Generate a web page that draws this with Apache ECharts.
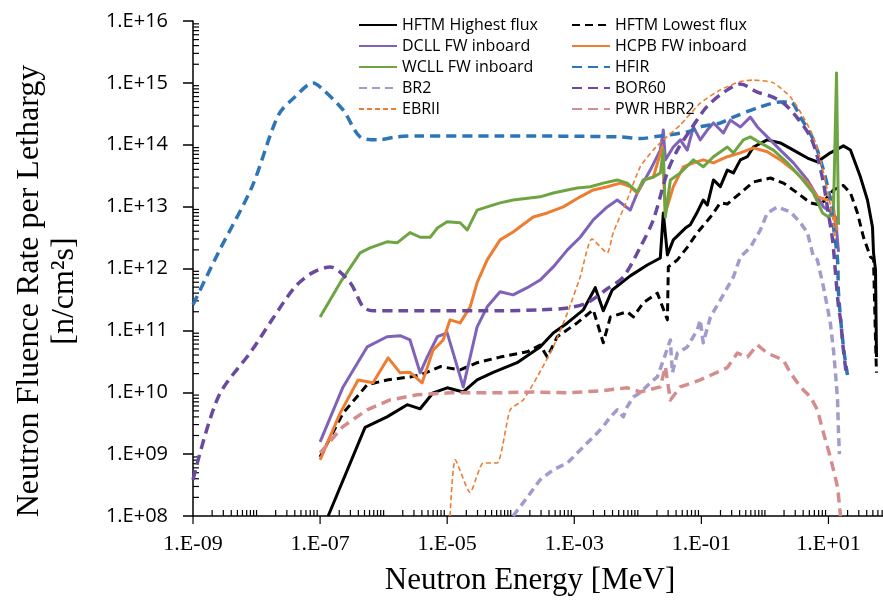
<!DOCTYPE html>
<html>
<head>
<meta charset="utf-8">
<script src="https://cdn.jsdelivr.net/npm/echarts@6/dist/echarts.min.js"></script>
<style>html,body{margin:0;padding:0;background:#fff}#c{width:883px;height:608px}</style>
</head>
<body>
<div id="c"></div>
<script>
// Axis decades (tick values)
const xDecades = [1e-9,1e-8,1e-7,1e-6,1e-5,1e-4,1e-3,1e-2,1e-1,1e0,1e1,1e2];
const yDecades = [1e8,1e9,1e10,1e11,1e12,1e13,1e14,1e15,1e16];
const minorSteps = [2,3,4,5,6,7,8,9];

// Series values: [energy MeV, fluence rate per lethargy]
const hftmHighest = [[1.34e-7,1.0e8],[5.1e-7,2.7e9],[1.13e-6,4.0e9],[2.35e-6,6.3e9],[3.76e-6,5.4e9],[6.0e-6,9.8e9],[1.0e-5,1.18e10],[1.79e-5,1.01e10],[2.96e-5,1.58e10],[5.3e-5,2.1e10],[1.26e-4,3.0e10],[2.9e-4,5.4e10],[4.67e-4,9.1e10],[7.8e-4,1.32e11],[1.39e-3,2.15e11],[2.14e-3,4.9e11],[2.86e-3,2.07e11],[3.96e-3,4.5e11],[7.6e-3,7.6e11],[1.41e-2,1.14e12],[2.26e-2,1.48e12],[2.52e-2,7.9e12],[2.92e-2,1.66e12],[3.62e-2,2.9e12],[5.6e-2,4.5e12],[6.7e-2,5.1e12],[8.65e-2,8.2e12],[0.107,1.28e13],[0.124,1.06e13],[0.155,2.7e13],[0.199,2.1e13],[0.256,3.9e13],[0.319,3.5e13],[0.411,5.7e13],[0.53,6.4e13],[0.659,9.2e13],[1.09,1.2e14],[1.75,1.07e14],[2.81,8.2e13],[4.67,6.1e13],[6.7,5.3e13],[10.7,7.4e13],[17.2,9.6e13],[22.2,8.2e13],[31.9,3.0e13],[41.1,1.28e13],[49.3,4.7e12],[51.2,1.79e12],[55.0,9.5e11],[57.0,3.7e10]];
const hftmLowest = [[1e-7,9.0e8],[2.3e-7,4.6e9],[5.5e-7,1.32e10],[1.13e-6,1.58e10],[2.6e-6,1.77e10],[3.76e-6,1.9e10],[7.8e-6,2.6e10],[1.6e-5,2.3e10],[2.96e-5,3.0e10],[6.8e-5,3.7e10],[1.82e-4,4.5e10],[2.9e-4,5.8e10],[3.76e-4,3.7e10],[5.4e-4,7.9e10],[1.11e-3,1.32e11],[1.99e-3,2.15e11],[2.86e-3,6.3e10],[3.7e-3,1.65e11],[6.8e-3,2.0e11],[8.5e-3,1.65e11],[1.22e-2,2.8e11],[2.03e-2,4.0e11],[2.92e-2,1.48e11],[3.02e-2,1.06e12],[4.19e-2,1.38e12],[6.0e-2,2.2e12],[8.65e-2,3.8e12],[0.139,6.8e12],[0.199,1.15e13],[0.256,1.1e13],[0.411,1.66e13],[0.659,2.5e13],[1.22,2.9e13],[1.96,2.4e13],[3.25,1.66e13],[5.2,1.15e13],[7.5,1.06e13],[12.0,1.86e13],[17.2,2.2e13],[22.2,1.66e13],[28.6,7.9e12],[35.6,3.2e12],[45.8,1.54e12],[51.2,1.4e12],[55.0,7.0e10],[57.0,2.06e10]];
const dcll = [[1e-7,1.58e9],[2.3e-7,1.22e10],[5.5e-7,5.4e10],[1.13e-6,7.9e10],[1.82e-6,8.2e10],[2.6e-6,7.0e10],[3.76e-6,2.06e10],[4.84e-6,3.7e10],[7.0e-6,7.9e10],[1e-5,9.1e10],[1.79e-5,1.22e10],[2.96e-5,1.14e11],[4.26e-5,2.4e11],[6.8e-5,4.2e11],[1.09e-4,3.75e11],[1.82e-4,4.9e11],[2.9e-4,6.5e11],[4.67e-4,1.06e12],[7.8e-4,2.0e12],[1.24e-3,3.2e12],[1.99e-3,6.1e12],[3.3e-3,9.9e12],[4.75e-3,1.28e13],[7.6e-3,8.8e12],[9.8e-3,1.66e13],[1.57e-2,3.9e13],[2.26e-2,8.2e13],[2.52e-2,1.73e14],[2.71e-2,5.7e13],[3.62e-2,9.2e13],[4.67e-2,1.2e14],[6.0e-2,8.2e13],[7.5e-2,1.94e14],[9.6e-2,1.2e14],[0.124,1.73e14],[0.155,2.25e14],[0.222,1.55e14],[0.286,2.5e14],[0.411,1.94e14],[0.59,2.8e14],[0.762,1.94e14],[1.09,1.34e14],[1.75,8.2e13],[2.81,5.1e13],[4.67,2.7e13],[6.7,1.44e13],[8.35,9.9e12],[11.6,7.9e12],[12.9,6.8e12],[14.4,1.85e12]];
const hcpb = [[1e-7,8.1e8],[2.07e-7,4.6e9],[3.96e-7,1.58e10],[6.8e-7,1.42e10],[1.18e-6,3.6e10],[1.82e-6,2.06e10],[2.6e-6,2.1e10],[4.04e-6,1.42e10],[6.0e-6,4.8e10],[8.65e-6,7.0e10],[1.11e-5,1.48e11],[1.6e-5,1.32e11],[2.3e-5,2.4e11],[2.96e-5,5.9e11],[4.26e-5,1.38e12],[6.8e-5,2.9e12],[1.09e-4,3.9e12],[2.26e-4,6.8e12],[3.76e-4,7.9e12],[6.7e-4,9.9e12],[1.24e-3,1.44e13],[1.99e-3,1.86e13],[3.3e-3,2.1e13],[5.3e-3,2.4e13],[7.6e-3,2.1e13],[9.8e-3,1.66e13],[1.22e-2,2.7e13],[1.75e-2,3.0e13],[2.43e-2,9.2e13],[2.71e-2,7.9e12],[3.62e-2,2.1e13],[5.2e-2,4.4e13],[7.5e-2,5.1e13],[0.107,5.7e13],[0.155,5.1e13],[0.256,6.4e13],[0.411,7.4e13],[0.659,8.9e13],[1.09,7.7e13],[1.75,5.7e13],[2.81,3.9e13],[4.67,2.4e13],[6.7,1.44e13],[9.6,1.28e13],[11.6,1.44e13],[12.9,4.7e12],[13.9,4.2e12]];
const wcll = [[1e-7,1.65e11],[2.07e-7,5.9e11],[4.26e-7,1.79e12],[6.1e-7,2.15e12],[1.13e-6,2.7e12],[1.63e-6,2.6e12],[2.6e-6,3.8e12],[3.76e-6,3.2e12],[5.4e-6,3.2e12],[7.0e-6,4.5e12],[1e-5,5.7e12],[1.6e-5,5.5e12],[2.07e-5,4.2e12],[2.96e-5,8.8e12],[4.26e-5,9.9e12],[6.8e-5,1.15e13],[1.09e-4,1.28e13],[2.9e-4,1.44e13],[4.67e-4,1.66e13],[7.8e-4,1.86e13],[1.11e-3,2.0e13],[1.79e-3,2.1e13],[2.86e-3,2.4e13],[4.75e-3,2.7e13],[6.8e-3,2.4e13],[9.8e-3,1.73e13],[1.22e-2,2.7e13],[1.75e-2,3.0e13],[2.26e-2,3.5e13],[2.52e-2,8.2e13],[2.71e-2,6.8e12],[3.25e-2,2.7e13],[4.67e-2,3.5e13],[7.5e-2,5.7e13],[0.107,4.4e13],[0.155,6.4e13],[0.256,9.2e13],[0.319,7.4e13],[0.458,1.2e14],[0.59,1.34e14],[0.849,1.07e14],[1.36,8.2e13],[2.26,5.1e13],[3.62,3.0e13],[5.8,1.66e13],[8.05,7.9e12],[10.0,6.8e12],[12.0,8.8e12],[13.4,1.45e15],[14.4,5.1e12]];
const hfir = [[1e-9,2.6e11],[2.5e-9,1.8e12],[8.5e-9,2.1e13],[2.2e-8,3.0e14],[4.0e-8,5.9e14],[7.8e-8,1.0e15],[1e-7,8.6e14],[2.3e-7,3.65e14],[4.26e-7,1.34e14],[7.9e-7,1.2e14],[1.63e-6,1.34e14],[3.37e-6,1.39e14],[6.8e-5,1.39e14],[5.3e-3,1.34e14],[1.09e-2,1.26e14],[2.26e-2,1.39e14],[6.0e-2,1.61e14],[9.6e-2,1.94e14],[0.199,2.25e14],[0.319,2.8e14],[0.849,4.1e14],[1.75,4.9e14],[2.52,4.9e14],[3.62,2.8e14],[5.8,1.2e14],[8.35,3.9e13],[10.7,1.28e13],[12.0,4.7e12],[13.9,1.38e12],[14.4,4.0e11],[17.2,5.4e10],[19.9,1.9e10]];
const br2 = [[1.09e-4,1.0e8],[1.82e-4,2.0e8],[2.9e-4,3.85e8],[4.67e-4,5.6e8],[7.8e-4,7.2e8],[1.39e-3,1.31e9],[2.3e-3,2.2e9],[2.86e-3,2.8e9],[3.7e-3,4.0e9],[4.75e-3,5.2e9],[5.9e-3,4.0e9],[6.8e-3,5.8e9],[8.5e-3,8.4e9],[1.09e-2,9.8e9],[1.57e-2,1.42e10],[2.03e-2,1.77e10],[2.52e-2,3.3e10],[3.25e-2,7.0e10],[3.5e-2,2.06e10],[4.19e-2,4.3e10],[6.0e-2,5.4e10],[8.65e-2,1.02e11],[9.6e-2,1.48e11],[0.107,6.3e10],[0.139,1.65e11],[0.199,3.1e11],[0.319,7.3e11],[0.411,1.54e12],[0.59,2.2e12],[0.849,4.2e12],[1.09,7.9e12],[1.57,9.9e12],[2.52,8.2e12],[3.62,5.5e12],[4.67,3.8e12],[5.8,1.54e12],[6.7,1.38e12],[8.35,5.0e11],[9.6,2.4e11],[10.7,1.32e11],[12.0,4.8e10],[12.9,2.06e10],[13.9,7.5e9],[14.4,2.2e9],[14.9,1.0e9]];
const bor60 = [[1e-9,3.85e8],[2.5e-9,8.4e9],[8.5e-9,4.8e10],[1.75e-8,1.48e11],[4.0e-8,5.0e11],[7.5e-8,8.5e11],[1.44e-7,1.06e12],[2.97e-7,5.9e11],[4.75e-7,2.4e11],[6.8e-7,2.07e11],[1.82e-6,2.07e11],[1.11e-5,2.07e11],[6.8e-5,2.07e11],[2.9e-4,2.15e11],[7.8e-4,2.3e11],[1.6e-3,2.8e11],[3.3e-3,4.7e11],[5.9e-3,7.3e11],[1.09e-2,2.2e12],[1.75e-2,6.1e12],[2.92e-2,3.6e13],[4.19e-2,8.2e13],[6.7e-2,1.73e14],[0.124,4.2e14],[0.256,7.7e14],[0.411,9.6e14],[0.762,7.1e14],[1.22,6.1e14],[1.96,4.7e14],[3.25,2.7e14],[5.2,1.34e14],[6.7,6.4e13],[8.35,2.4e13],[9.6,9.9e12],[11.6,2.9e12],[12.9,8.5e11],[14.4,2.4e11],[15.5,1.48e11],[17.2,4.8e10],[19.2,1.9e10]];
const ebrii = [[1.11e-5,1.0e8],[1.34e-5,8.1e8],[2.3e-5,2.4e8],[3.7e-5,7.2e8],[6.1e-5,7.2e8],[9.8e-5,5.2e9],[1.57e-4,7.5e9],[2.6e-4,1.77e10],[4.67e-4,5.4e10],[7.8e-4,1.92e11],[1.24e-3,7.3e11],[1.9e-3,3.0e12],[3.3e-3,1.79e12],[4.1e-3,3.8e12],[6.8e-3,1.28e13],[1.09e-2,4.4e13],[1.75e-2,8.2e13],[2.52e-2,1.2e14],[4.67e-2,2.1e14],[9.6e-2,4.7e14],[0.199,7.7e14],[0.411,1.05e15],[0.659,1.11e15],[1.36,1.0e15],[2.52,5.9e14],[4.04,2.8e14],[5.8,1.34e14],[7.5,5.7e13],[9.6,1.86e13],[11.6,6.8e12],[12.9,2.9e12]];
const pwrHbr2 = [[1e-7,1.05e9],[2.3e-7,2.8e9],[5.5e-7,5.2e9],[1.26e-6,7.5e9],[3.37e-6,9.1e9],[1.11e-5,9.8e9],[6.8e-5,9.8e9],[2.26e-4,1.01e10],[7.8e-4,9.8e9],[2.56e-3,1.05e10],[6.8e-3,1.18e10],[1.09e-2,1.01e10],[2.26e-2,1.22e10],[2.71e-2,2.6e10],[3.25e-2,7.5e9],[4.67e-2,1.22e10],[9.6e-2,1.58e10],[0.256,2.5e10],[0.369,4.3e10],[0.53,3.7e10],[0.762,5.8e10],[1.09,4.3e10],[1.96,3.3e10],[2.52,2.06e10],[3.62,1.22e10],[5.2,8.4e9],[6.7,5.2e9],[8.35,2.2e9],[10.7,9.0e8],[13.9,2.95e8],[15.5,1.0e8]];

const legendLeft = ['HFTM Highest flux','DCLL FW inboard','WCLL FW inboard','BR2','EBRII'];
const legendRight = ['HFTM Lowest flux','HCPB FW inboard','HFIR','BOR60','PWR HBR2'];

function expOf(v){ return Math.round(Math.log10(v)); }
function isOdd(e){ return Math.abs(e) % 2 === 1; }
function sci(v){
  const e = expOf(v);
  return '1.E' + (e < 0 ? '-' : '+') + String(Math.abs(e)).padStart(2,'0');
}
function sciOdd(v){ return isOdd(expOf(v)) ? sci(v) : ''; }
function line(name, data, color, width, dash, smooth){
  return {
    name: name, type: 'line', data: data, showSymbol: false, symbol: 'none',
    smooth: smooth || false, animation: false,
    lineStyle: { color: color, width: width, type: dash || 'solid', cap: 'butt', join: 'round' },
    itemStyle: { color: color }
  };
}
// tick positions built from the decade lists
const xMajor = [], xMinor = [], yMinor = [];
xDecades.slice(0, -1).forEach(d => {
  if (isOdd(expOf(d))) xMajor.push([d, 1e8]); else xMinor.push([d, 1e8]);
  minorSteps.forEach(s => xMinor.push([d * s, 1e8]));
});
yDecades.slice(0, -1).forEach(d => minorSteps.forEach(s => yMinor.push([1e-9, d * s])));

function tickSeries(name, data, dx1, dy1, dx2, dy2){
  return { type: 'custom', name: name, silent: true, data: data, z: 1, animation: false,
    renderItem: function (params, api) {
      const p = api.coord([api.value(0), api.value(1)]);
      return { type: 'line', shape: { x1: p[0] + dx1, y1: p[1] + dy1, x2: p[0] + dx2, y2: p[1] + dy2 },
               style: { stroke: '#000', lineWidth: 1.2 } };
    } };
}

const chart = echarts.init(document.getElementById('c'), null, { renderer: 'canvas' });
const serifFont = '"Liberation Serif","Times New Roman",serif';
const sansFont = '"Open Sans","Noto Sans",sans-serif';
const legendCommon = { orient: 'vertical', top: 17, padding: 0, itemGap: 5, itemWidth: 38, itemHeight: 14,
  itemStyle: { opacity: 0 }, textStyle: { fontFamily: sansFont, fontSize: 16, color: '#000' } };

chart.setOption({
  animation: false,
  backgroundColor: '#ffffff',
  grid: { left: 193, top: 21, bottom: 92, right: -9, containLabel: false, outerBoundsMode: 'none' },
  xAxis: {
    type: 'log', logBase: 10, min: 1e-9, max: 1e2, interval: 1,
    axisLine: { lineStyle: { color: '#000', width: 1.5 } },
    axisTick: { show: false },
    axisLabel: { formatter: sciOdd, margin: 17, color: '#000', fontFamily: serifFont, fontSize: 22 },
    splitLine: { show: false }
  },
  yAxis: {
    type: 'log', logBase: 10, min: 1e8, max: 1e16, interval: 1,
    axisLine: { lineStyle: { color: '#000', width: 1.5 } },
    axisTick: { show: true, length: 10, lineStyle: { color: '#000', width: 1.5 } },
    axisLabel: { formatter: sci, margin: 25, color: '#000', fontFamily: sansFont, fontSize: 20 },
    splitLine: { show: false }
  },
  legend: [
    Object.assign({ left: 358, data: legendLeft }, legendCommon),
    Object.assign({ left: 571, data: legendRight }, legendCommon)
  ],
  graphic: [
    { type: 'text', x: 30, y: 291, rotation: Math.PI / 2,
      style: { text: 'Neutron Fluence Rate per Lethargy', font: '32px ' + serifFont, textAlign: 'center', textVerticalAlign: 'middle', fill: '#000' } },
    { type: 'text', x: 65, y: 291, rotation: Math.PI / 2,
      style: { text: '[n/cm\u00B2s]', font: '32px ' + serifFont, textAlign: 'center', textVerticalAlign: 'middle', fill: '#000' } },
    { type: 'text', x: 530, y: 581,
      style: { text: 'Neutron Energy [MeV]', font: '31px ' + serifFont, textAlign: 'center', textVerticalAlign: 'middle', fill: '#000' } }
  ],
  series: [
    tickSeries('xmajor', xMajor, 0, 0, 0, 8),
    tickSeries('xminor', xMinor, 0, 0, 0, -6),
    tickSeries('yminor', yMinor, 0, 0, 6, 0),
    line('HFTM Highest flux', hftmHighest, '#000000', 3),
    line('HFTM Lowest flux', hftmLowest, '#000000', 3, [8, 5]),
    line('DCLL FW inboard', dcll, '#7F63B8', 3),
    line('HCPB FW inboard', hcpb, '#ED7D31', 3),
    line('WCLL FW inboard', wcll, '#6FA443', 3),
    line('HFIR', hfir, '#2E75B6', 3.5, [10, 6], 0.3),
    line('BR2', br2, '#A29BCB', 3.5, [8, 5]),
    line('BOR60', bor60, '#6A4A9E', 3.5, [10, 6], 0.3),
    line('EBRII', ebrii, '#ED7D31', 1.6, [5, 3], 0.2),
    line('PWR HBR2', pwrHbr2, '#D58C8C', 3.5, [10, 6])
  ]
});
</script>
</body>
</html>
